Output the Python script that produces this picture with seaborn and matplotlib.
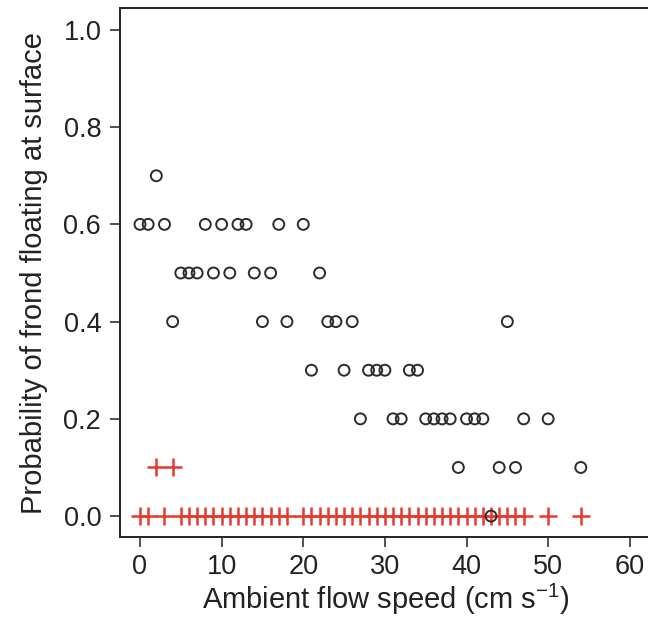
import matplotlib
matplotlib.use("Agg")
import matplotlib.pyplot as plt
import seaborn as sns
import pandas as pd

# Observed probability (open circles)
obs_x = [2,
         0, 1, 3, 8, 10, 12, 13, 17, 20,
         5, 6, 7, 9, 11, 14, 16, 22,
         4, 15, 18, 23, 24, 26, 45,
         21, 25, 28, 29, 30, 33, 34,
         27, 31, 32, 35, 36, 37, 38, 40, 41, 42, 47, 50,
         39, 44, 46, 54,
         43]
obs_y = [0.7,
         0.6, 0.6, 0.6, 0.6, 0.6, 0.6, 0.6, 0.6, 0.6,
         0.5, 0.5, 0.5, 0.5, 0.5, 0.5, 0.5, 0.5,
         0.4, 0.4, 0.4, 0.4, 0.4, 0.4, 0.4,
         0.3, 0.3, 0.3, 0.3, 0.3, 0.3, 0.3,
         0.2, 0.2, 0.2, 0.2, 0.2, 0.2, 0.2, 0.2, 0.2, 0.2, 0.2, 0.2,
         0.1, 0.1, 0.1, 0.1,
         0.0]

# Second series (red crosses)
cross_x = [2, 4,
           0, 1, 3, 5, 6, 7, 8, 9, 10, 11, 12, 13, 14, 15, 16, 17, 18,
           20, 21, 22, 23, 24, 25, 26, 27, 28, 29, 30, 31, 32, 33, 34,
           35, 36, 37, 38, 39, 40, 41, 42, 43, 44, 45, 46, 47, 50, 54]
cross_y = [0.1, 0.1] + [0.0] * 47

x_ticks = [0, 10, 20, 30, 40, 50, 60]
y_ticks = [0.0, 0.2, 0.4, 0.6, 0.8, 1.0]

sns.set_style("ticks")
plt.rcParams['font.family'] = ['Liberation Sans', 'DejaVu Sans']
plt.rcParams['mathtext.fontset'] = 'custom'
plt.rcParams['mathtext.rm'] = 'Liberation Sans'
plt.rcParams['mathtext.it'] = 'Liberation Sans'

fig = plt.figure(figsize=(6.48, 6.2), dpi=100)
ax = fig.add_axes([120/648, 83/620, 531/648, 529/620])

obs = pd.DataFrame({"x": obs_x, "y": obs_y})
crs = pd.DataFrame({"x": cross_x, "y": cross_y})

sns.scatterplot(data=crs, x="x", y="y", ax=ax, marker="+", color="#E8392F",
                s=180, linewidth=1.8, zorder=2)
sns.scatterplot(data=obs, x="x", y="y", ax=ax, marker="o", facecolor="none",
                edgecolor="#2b2b2b", s=62, linewidth=1.4, zorder=3)

ax.set_xlim(-2.45, 62.6)
ax.set_ylim(-0.043, 1.045)
ax.set_xticks(x_ticks)
ax.set_xticklabels([str(t) for t in x_ticks])
ax.set_yticks(y_ticks)
ax.set_yticklabels([f"{t:.1f}" for t in y_ticks])

ax.set_xlabel("Ambient flow speed (cm s$^{\\mathregular{-1}}$)", fontsize=21, color="#222222", labelpad=1)
ax.set_ylabel("Probability of frond floating at surface", fontsize=21, color="#222222", labelpad=11)
ax.tick_params(axis="both", labelsize=19.5, length=7.5, width=1.2, colors="#333333",
               labelcolor="#222222", direction="out")
ax.tick_params(axis="x", pad=5)
ax.tick_params(axis="y", pad=6)
for side in ["left", "bottom", "top", "right"]:
    ax.spines[side].set_linewidth(1.4)
    ax.spines[side].set_color("#222222")
    ax.spines[side].set_visible(True)

fig.savefig("out.png", dpi=100)
